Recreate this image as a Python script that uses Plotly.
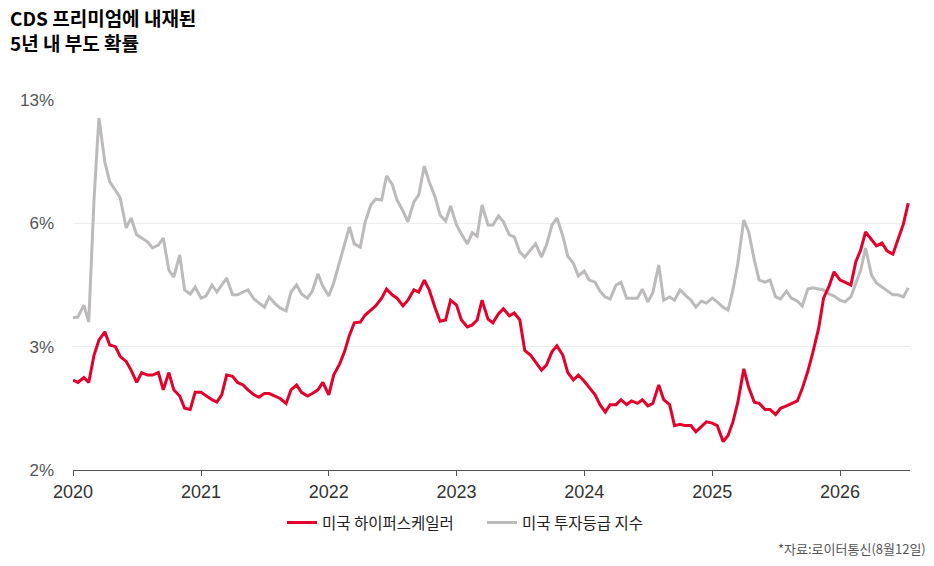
import numpy as np
import pandas as pd
import plotly.graph_objects as go

# semi-monthly observations, 2020-01-01 .. 2026-07-16
dates = pd.date_range("2020-01-01", periods=158, freq="SMS")

# 미국 투자등급 지수 (%)
ig = [3.70, 3.72, 4.01, 3.60, 7.32, 11.98, 9.48, 8.35, 7.89, 7.44,
      5.89, 6.30, 5.72, 5.64, 5.55, 5.40, 5.47, 5.64, 4.86, 4.69,
      5.23, 4.38, 4.28, 4.45, 4.18, 4.23, 4.50, 4.33, 4.50, 4.67,
      4.26, 4.26, 4.33, 4.38, 4.16, 4.06, 3.96, 4.21, 4.04, 3.94,
      3.87, 4.33, 4.50, 4.28, 4.18, 4.35, 4.77, 4.47, 4.23, 4.55,
      5.06, 5.50, 5.91, 5.50, 5.42, 6.08, 7.04, 7.38, 7.32, 8.69,
      8.23, 7.32, 6.70, 6.08, 7.21, 7.61, 9.25, 8.35, 7.50, 6.47,
      6.13, 6.98, 5.96, 5.74, 5.50, 5.77, 5.69, 7.04, 5.96, 5.96,
      6.42, 6.08, 5.72, 5.67, 5.30, 5.18, 5.35, 5.50, 5.18, 5.47,
      5.96, 6.30, 5.69, 5.20, 5.03, 4.72, 4.84, 4.62, 4.57, 4.35,
      4.21, 4.16, 4.50, 4.57, 4.18, 4.18, 4.18, 4.40, 4.09, 4.31,
      4.99, 4.13, 4.21, 4.13, 4.38, 4.26, 4.13, 3.96, 4.11, 4.06,
      4.18, 4.09, 3.96, 3.89, 4.38, 5.03, 6.19, 5.79, 5.11, 4.62,
      4.57, 4.62, 4.21, 4.16, 4.35, 4.18, 4.11, 3.99, 4.40, 4.43,
      4.40, 4.38, 4.28, 4.23, 4.13, 4.09, 4.21, 4.52, 4.86, 5.40,
      4.74, 4.55, 4.45, 4.38, 4.26, 4.26, 4.21, 4.43]

# 미국 하이퍼스케일러 (%)
hyper = [2.73, 2.71, 2.75, 2.71, 2.93, 3.16, 3.36, 3.04, 3.00, 2.92,
         2.88, 2.81, 2.71, 2.79, 2.77, 2.77, 2.79, 2.65, 2.79, 2.65,
         2.60, 2.50, 2.49, 2.63, 2.63, 2.60, 2.57, 2.55, 2.61, 2.77,
         2.76, 2.71, 2.69, 2.65, 2.61, 2.59, 2.62, 2.62, 2.60, 2.58,
         2.54, 2.65, 2.69, 2.63, 2.60, 2.62, 2.65, 2.71, 2.61, 2.77,
         2.86, 2.96, 3.28, 3.58, 3.60, 3.77, 3.89, 3.99, 4.18, 4.40,
         4.26, 4.18, 3.99, 4.13, 4.38, 4.33, 4.62, 4.38, 3.94, 3.62,
         3.65, 4.13, 4.01, 3.65, 3.48, 3.53, 3.65, 4.13, 3.67, 3.58,
         3.80, 3.92, 3.75, 3.82, 3.65, 2.97, 2.93, 2.88, 2.81, 2.85,
         2.96, 3.02, 2.93, 2.79, 2.73, 2.77, 2.72, 2.67, 2.61, 2.53,
         2.47, 2.53, 2.53, 2.57, 2.53, 2.56, 2.54, 2.57, 2.52, 2.54,
         2.69, 2.57, 2.53, 2.36, 2.37, 2.36, 2.36, 2.31, 2.35, 2.39,
         2.38, 2.36, 2.23, 2.28, 2.39, 2.55, 2.82, 2.67, 2.55, 2.54,
         2.49, 2.49, 2.45, 2.50, 2.52, 2.54, 2.56, 2.66, 2.80, 2.95,
         3.45, 4.18, 4.48, 4.82, 4.62, 4.57, 4.50, 5.06, 5.35, 5.79,
         5.60, 5.45, 5.52, 5.33, 5.25, 5.57, 5.98, 7.15]

tick_pct = [2, 3, 6, 13]
tick_text = ["2%", "3%", "6%", "13%"]


# the chart spaces its y ticks evenly, so map values band by band
def to_axis(v):
    return np.interp(v, tick_pct, np.arange(len(tick_pct)))


kr = "Noto Sans CJK KR"
fig = go.Figure()
fig.add_trace(go.Scatter(x=dates, y=to_axis(ig), name="미국 투자등급 지수",
                         mode="lines", line=dict(color="#BDBABA", width=3)))
fig.add_trace(go.Scatter(x=dates, y=to_axis(hyper), name="미국 하이퍼스케일러",
                         mode="lines", line=dict(color="#E4002B", width=3)))

# page body adds ~8px margin top/left, so shrink the figure by that much
fig.update_layout(
    width=926, height=558,
    margin=dict(l=65, r=24, t=92, b=96),
    paper_bgcolor="white", plot_bgcolor="white",
    font=dict(family="Liberation Sans, Arial", color="#333"),
    legend=dict(orientation="h", x=0.2497, xanchor="left", y=-0.143,
                yanchor="middle", traceorder="reversed",
                font=dict(family=kr, size=15.5, color="#222"),
                itemwidth=30, entrywidth=155, entrywidthmode="pixels"),
    showlegend=True,
)
fig.update_xaxes(type="date", range=["2020-01-01", "2026-07-20"],
                 tick0="2020-01-01", dtick="M12", tickformat="%Y",
                 showgrid=False, showline=True, linecolor="#555", linewidth=1,
                 ticks="outside", ticklen=5, tickcolor="#555",
                 tickfont=dict(size=18, color="#333"), zeroline=False)
fig.update_yaxes(range=[0, 3], tickvals=list(range(len(tick_pct))),
                 ticktext=tick_text, showgrid=True, gridcolor="#EEEEEE",
                 zeroline=False, ticks="", ticklabelstandoff=18,
                 tickfont=dict(size=17, color="#555"))

fig.add_annotation(text="<b>CDS 프리미엄에 내재된<br>5년 내 부도 확률</b>",
                   xref="paper", yref="paper", x=-0.0765, y=1.2622,
                   xanchor="left", yanchor="top", align="left", borderpad=0,
                   showarrow=False, font=dict(family=kr, size=19, color="#000"))

fig.add_annotation(text="*자료:로이터통신(8월12일)", xref="paper", yref="paper",
                   x=1.0215, y=-0.2135, xanchor="right", yanchor="middle",
                   showarrow=False, font=dict(family=kr, size=13, color="#555"))

fig.write_html("out.html")
